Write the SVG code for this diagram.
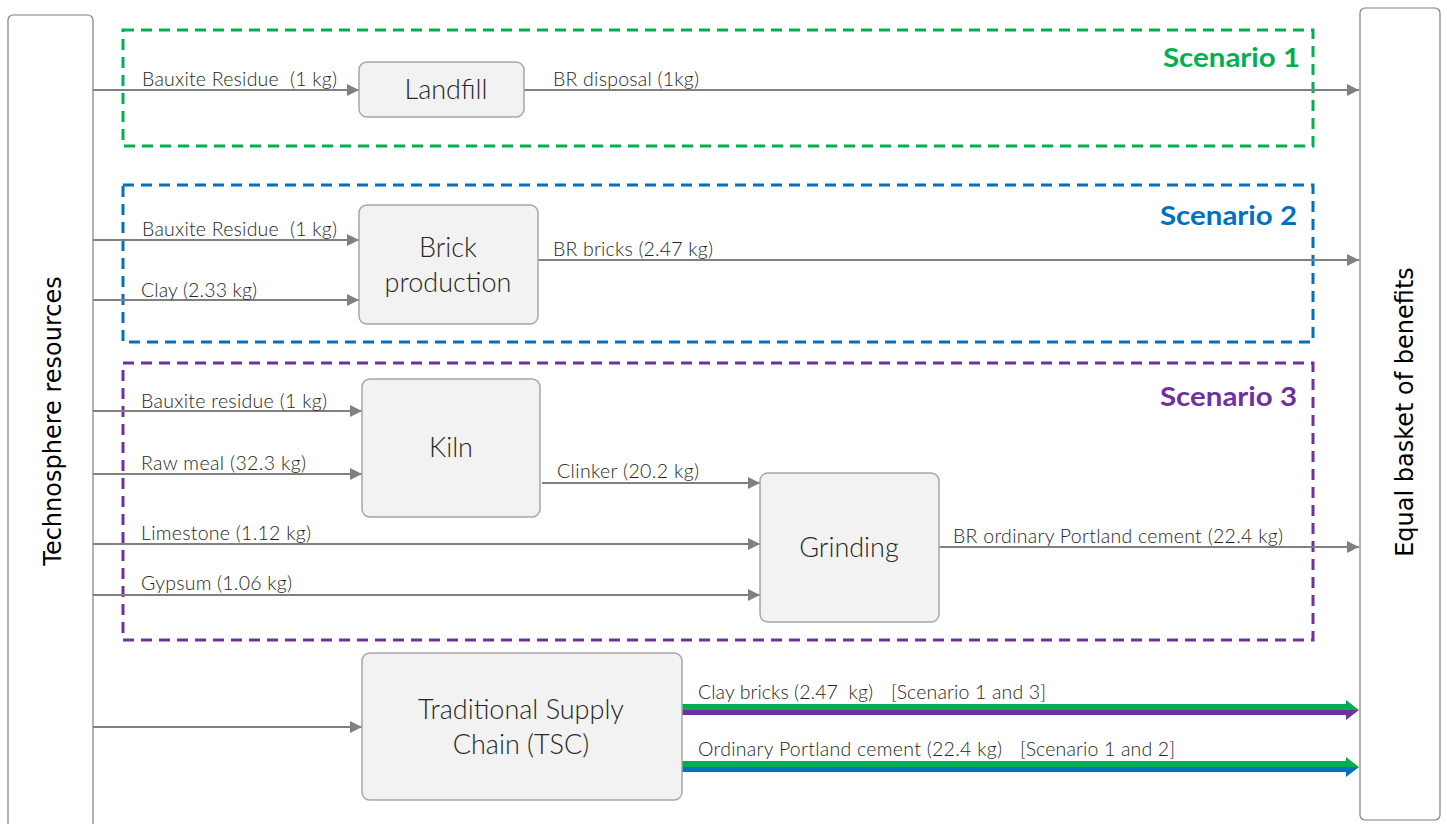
<svg xmlns="http://www.w3.org/2000/svg" width="1447" height="824" viewBox="0 0 1447 824">
<style>
.bg{fill:#ffffff}
.side{fill:#ffffff;stroke:#7f7f7f;stroke-width:1.2}
.proc{fill:#f2f2f2;stroke:#a6a6a6;stroke-width:1.5}
.ptxt{font-family:"Lato","Liberation Sans",sans-serif;font-weight:300;font-size:27px;fill:#262626;text-anchor:middle}
.vtxt{font-family:"DejaVu Sans","Liberation Sans",sans-serif;font-size:24px;fill:#000;text-anchor:middle}
.lbl{font-family:"Lato","Liberation Sans",sans-serif;font-weight:300;font-size:19.5px;fill:#262626}
.scn{font-family:"Lato","Liberation Sans",sans-serif;font-weight:700;font-size:27px;text-anchor:end}
.dash{fill:none;stroke-width:3;stroke-dasharray:11 7}
.flow{stroke:#808080;stroke-width:2.2;fill:none}
</style>
<defs>
<marker id="ah" viewBox="0 0 12 12" refX="12" refY="6" markerWidth="12" markerHeight="12" markerUnits="userSpaceOnUse" orient="auto">
<path d="M0,0 L12,6 L0,12 Z" fill="#808080"/>
</marker>
</defs>
<rect class="bg" x="0" y="0" width="1447" height="824"/>

<g id="technosphere">
<rect class="side" x="8" y="15" width="85" height="820" rx="5"/>
<text class="vtxt" transform="translate(61,421) rotate(-90)">Technosphere resources</text>
</g>
<g id="benefits">
<rect class="side" x="1360" y="8" width="80" height="812" rx="5"/>
<text class="vtxt" transform="translate(1413,412) rotate(-90)">Equal basket of benefits</text>
</g>

<g id="scenario1">
<rect class="dash" x="123" y="30" width="1190" height="116" stroke="#00b050"/>
<text class="scn" x="1300" y="67" fill="#00b050" textLength="137" lengthAdjust="spacingAndGlyphs">Scenario 1</text>
</g>
<g id="scenario2">
<rect class="dash" x="123" y="185" width="1190" height="157" stroke="#0070c0"/>
<text class="scn" x="1297" y="225" fill="#0070c0" textLength="137" lengthAdjust="spacingAndGlyphs">Scenario 2</text>
</g>
<g id="scenario3">
<rect class="dash" x="123" y="363" width="1190" height="277" stroke="#7030a0"/>
<text class="scn" x="1297" y="406" fill="#7030a0" textLength="137" lengthAdjust="spacingAndGlyphs">Scenario 3</text>
</g>

<g id="connectors">
<line class="flow" x1="93" y1="90" x2="359" y2="90" marker-end="url(#ah)"/>
<line class="flow" x1="524" y1="90" x2="1359" y2="90" marker-end="url(#ah)"/>
<line class="flow" x1="93" y1="240" x2="359" y2="240" marker-end="url(#ah)"/>
<line class="flow" x1="93" y1="300" x2="359" y2="300" marker-end="url(#ah)"/>
<line class="flow" x1="538" y1="260" x2="1359" y2="260" marker-end="url(#ah)"/>
<line class="flow" x1="93" y1="411" x2="362" y2="411" marker-end="url(#ah)"/>
<line class="flow" x1="93" y1="474" x2="362" y2="474" marker-end="url(#ah)"/>
<line class="flow" x1="542" y1="483" x2="760" y2="483" marker-end="url(#ah)"/>
<line class="flow" x1="93" y1="544" x2="760" y2="544" marker-end="url(#ah)"/>
<line class="flow" x1="93" y1="595" x2="760" y2="595" marker-end="url(#ah)"/>
<line class="flow" x1="939" y1="547" x2="1359" y2="547" marker-end="url(#ah)"/>
<line class="flow" x1="93" y1="727" x2="362" y2="727" marker-end="url(#ah)"/>
<polygon points="682,704 1346,704 1346,700 1359,710 682,710" fill="#00b050"/>
<polygon points="682,710 1359,710 1346,720 1346,715 682,715" fill="#7030a0"/>
<polygon points="682,761 1346,761 1346,757 1359,767 682,767" fill="#00b050"/>
<polygon points="682,767 1359,767 1346,777 1346,772 682,772" fill="#0070c0"/>
<text class="lbl" x="142" y="86" xml:space="preserve" textLength="195" lengthAdjust="spacing">Bauxite Residue  (1 kg)</text>
<text class="lbl" x="553" y="86" textLength="146" lengthAdjust="spacing">BR disposal (1kg)</text>
<text class="lbl" x="142" y="236" xml:space="preserve" textLength="195" lengthAdjust="spacing">Bauxite Residue  (1 kg)</text>
<text class="lbl" x="141" y="297" textLength="116" lengthAdjust="spacing">Clay (2.33 kg)</text>
<text class="lbl" x="553" y="256" textLength="160" lengthAdjust="spacing">BR bricks (2.47 kg)</text>
<text class="lbl" x="141" y="408" textLength="186" lengthAdjust="spacing">Bauxite residue (1 kg)</text>
<text class="lbl" x="141" y="470" textLength="165" lengthAdjust="spacing">Raw meal (32.3 kg)</text>
<text class="lbl" x="557" y="478" textLength="142" lengthAdjust="spacing">Clinker (20.2 kg)</text>
<text class="lbl" x="141" y="540" textLength="170" lengthAdjust="spacing">Limestone (1.12 kg)</text>
<text class="lbl" x="141" y="590" textLength="151" lengthAdjust="spacing">Gypsum (1.06 kg)</text>
<text class="lbl" x="953" y="543" textLength="330" lengthAdjust="spacing">BR ordinary Portland cement (22.4 kg)</text>
<text class="lbl" x="698" y="699" xml:space="preserve" textLength="175" lengthAdjust="spacing">Clay bricks (2.47  kg)</text>
<text class="lbl" x="891" y="699" textLength="155" lengthAdjust="spacing">[Scenario 1 and 3]</text>
<text class="lbl" x="698" y="756" textLength="304" lengthAdjust="spacing">Ordinary Portland cement (22.4 kg)</text>
<text class="lbl" x="1020" y="756" textLength="155" lengthAdjust="spacing">[Scenario 1 and 2]</text>
</g>

<g id="landfill">
<rect class="proc" x="359" y="62" width="165" height="55" rx="8"/>
<text class="ptxt" x="446" y="99">Landfill</text>
</g>
<g id="brick">
<rect class="proc" x="359" y="205" width="179" height="119" rx="8"/>
<text class="ptxt" x="448" y="257">Brick</text>
<text class="ptxt" x="448" y="292">production</text>
</g>
<g id="kiln">
<rect class="proc" x="362" y="379" width="178" height="138" rx="8"/>
<text class="ptxt" x="451" y="457">Kiln</text>
</g>
<g id="grinding">
<rect class="proc" x="760" y="473" width="179" height="149" rx="8"/>
<text class="ptxt" x="849" y="557">Grinding</text>
</g>
<g id="tsc">
<rect class="proc" x="362" y="653" width="320" height="147" rx="8"/>
<text class="ptxt" x="521" y="719">Traditional Supply</text>
<text class="ptxt" x="521" y="754">Chain (TSC)</text>
</g>
</svg>
